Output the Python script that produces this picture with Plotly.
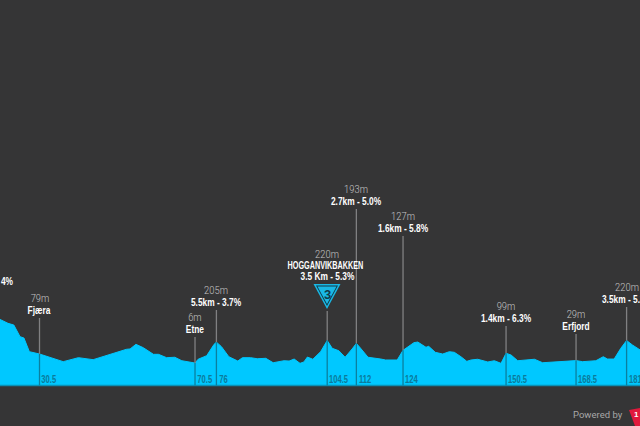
import plotly.graph_objects as go

# profile
km = [20.3, 21.6, 22.4, 23.9, 25.5, 26.5, 27.9, 30.5, 36.6, 40.5, 44.3, 52.9, 53.8, 55.3, 57.2, 59.8,
      61.1, 63.2, 65.3, 67.1, 70.5, 71.3, 73.5, 75.4, 76, 77.3, 79.2, 81.5, 82.7, 84.8, 86.5, 88.7,
      90.6, 93.4, 94.7, 96.0, 97.5, 98.5, 99.4, 100.8, 102.8, 104.5, 105.8, 107.5, 109.1, 110.9, 112,
      113.1, 115, 118.3, 119.5, 122.5, 124, 126.8, 127.8, 129.9, 130.6, 132.3, 134.2, 135.9, 137.2,
      138.9, 140.4, 141.5, 143.2, 145.8, 147.5, 149.2, 150.5, 151.8, 153.5, 157.8, 159.9, 168.5,
      170.2, 173.6, 175.5, 176.6, 178.3, 180, 181.5, 183, 185]
elevation = [422, 400, 384, 368, 257, 244, 114, 92, 19, 57, 38, 137, 140, 184, 152, 89,
             89, 57, 61, 28, 6, 42, 76, 184, 205, 162, 66, 25, 57, 57, 47, 51,
             9, 28, 25, 44, 3, 16, 63, 42, 114, 220, 146, 123, 61, 140, 193,
             146, 61, 44, 35, 35, 127, 200, 206, 156, 165, 108, 92, 114, 108,
             66, 22, 35, 42, 16, 28, 3, 99, 82, 28, 42, 9, 29,
             19, 28, 66, 44, 44, 146, 220, 178, 130]

mark_km = [30.5, 70.5, 76, 104.5, 112, 124, 150.5, 168.5, 181.5]
mark_km_text = ["30.5", "70.5", "76", "104.5", "112", "124", "150.5", "168.5", "181.5"]
mark_height = ["79m", "6m", "205m", "220m", "193m", "127m", "99m", "29m", "220m"]
mark_name = ["Fjæra", "Etne", "5.5km - 3.7%", "3.5 Km - 5.3%", "2.7km - 5.0%", "1.6km - 5.8%",
             "1.4km - 6.3%", "Erfjord", "3.5km - 5.3%"]
stem_top_px = [318, 337, 310, 311, 209, 236, 326, 334, 307]

BG = "#353536"
CYAN = "#00c8ff"
W, H = 640, 426
BASE = -208
NARROW = "Liberation Sans"
GREY_TEXT = "#c4c4c4"


def px_to_y(py):
    return (385.5 - py) / 0.105 + BASE


def px_to_km(px):
    return 20.34 + px / 3.888


def tri(x0, x1, ytop, ybot):
    # downward triangle in pixels, as a paper path
    return (f"M {x0/W} {1-ytop/H} L {x1/W} {1-ytop/H} L {(x0+x1)/2/W} {1-ybot/H} Z")


fig = go.Figure()
fig.add_trace(go.Scatter(x=[km[0], km[-1]], y=[BASE, BASE], mode="lines",
                         line=dict(color="#0b8fb3", width=1.5), hoverinfo="skip"))
fig.add_trace(go.Scatter(x=km, y=elevation, mode="lines", fill="tonexty", fillcolor=CYAN,
                         line=dict(color=CYAN, width=1), hoverinfo="skip"))

shapes = []
ann = []
for k, ktxt, h, name, top in zip(mark_km, mark_km_text, mark_height, mark_name, stem_top_px):
    e = elevation[km.index(k)]
    # grey above the profile, dark teal inside it
    shapes.append(dict(type="line", x0=k, x1=k, y0=e, y1=px_to_y(top), line=dict(color="#808082", width=1.3)))
    shapes.append(dict(type="line", x0=k, x1=k, y0=BASE, y1=e, line=dict(color="#0b7f9f", width=1.3)))
    ann.append(dict(x=k, y=BASE, xref="x", yref="y", text=ktxt, showarrow=False, xanchor="left", yanchor="bottom",
                    xshift=0.5 - 0.7 * len(ktxt), yshift=-1,
                    font=dict(family=NARROW, size=10, color="#0b7a9a", weight="bold")))
    if name.startswith("3.5 Km"):
        continue
    ann.append(dict(x=k, y=px_to_y(top - 8.5), xref="x", yref="y", text=name, showarrow=False,
                    font=dict(family=NARROW, size=11, color="white", weight="bold")))
    ann.append(dict(x=k, y=px_to_y(top - 19.5), xref="x", yref="y", text=h, showarrow=False,
                    font=dict(family="Roboto", size=11, color=GREY_TEXT, weight=300)))

# the climb cut off by the left edge
ann.append(dict(x=17 / W, y=1 - 281 / H, xref="paper", yref="paper", text="4%", showarrow=False,
                xanchor="right", yanchor="middle",
                font=dict(family=NARROW, size=11, color="white", weight="bold")))

# KOM block at 104.5
ann.append(dict(x=104.5, y=px_to_y(254), xref="x", yref="y", text="220m", showarrow=False,
                font=dict(family="Roboto", size=11, color=GREY_TEXT, weight=300)))
ann.append(dict(x=104.5, y=px_to_y(265), xref="x", yref="y", text="HOGGANVIKBAKKEN", showarrow=False, xshift=-1.5,
                font=dict(family=NARROW, size=11, color="white", weight="bold")))
ann.append(dict(x=104.5, y=px_to_y(276), xref="x", yref="y", text="3.5 Km - 5.3%", showarrow=False,
                font=dict(family=NARROW, size=11, color="white", weight="bold")))
for x0, x1, y0, y1, col in [(313.5, 340.5, 284, 309, "#19b9e6"), (316, 338, 285.5, 306, "#123a48"),
                            (317.5, 336.5, 286.5, 304, "#19b9e6")]:
    shapes.append(dict(type="path", xref="paper", yref="paper", fillcolor=col, line=dict(width=0),
                       path=tri(x0, x1, y0, y1)))
ann.append(dict(x=104.5, y=px_to_y(294), xref="x", yref="y", text="3", showarrow=False,
                font=dict(family=NARROW, size=13, color="#123a48", weight="bold")))

ann.append(dict(x=571 / W, y=1 - 414 / H, xref="paper", yref="paper", text="Powered by", showarrow=False,
                xanchor="left", yanchor="middle", font=dict(family="Roboto", size=9.5, color="#a8a8a8")))
shapes.append(dict(type="path", xref="paper", yref="paper", fillcolor="#e0193c", line=dict(width=0),
                   path=f"M {629/W} {1-410/H} L {640/W} {1-408/H} L {640/W} {0} L {635/W} {0} Z"))
ann.append(dict(x=636 / W, y=1 - 414 / H, xref="paper", yref="paper", text="1", showarrow=False,
                xanchor="center", yanchor="middle",
                font=dict(family=NARROW, size=8, color="white", weight="bold")))

fig.update_layout(
    width=W, height=H, margin=dict(l=0, r=0, t=0, b=0), showlegend=False,
    paper_bgcolor=BG, plot_bgcolor=BG, shapes=shapes, annotations=ann,
    xaxis=dict(range=[px_to_km(0), px_to_km(W)], visible=False),
    yaxis=dict(range=[px_to_y(H), px_to_y(0)], visible=False),
)

# no condensed font is installed, so squeeze the label text to the original's narrow look
squeeze = """
document.body.style.margin = '0';
document.querySelectorAll('.annotation-text').forEach(function (t) {
  var s = t.textContent;
  if (s === 'Powered by' || /^\\d$/.test(s)) return;
  var f = s === 'HOGGANVIKBAKKEN' ? 0.66 : /^\\d+m$/.test(s) ? 0.85 : 0.76;
  t.setAttribute('textLength', t.getComputedTextLength() * f);
  t.setAttribute('lengthAdjust', 'spacingAndGlyphs');
});
"""
fig.write_html("out.html", config=dict(displayModeBar=False), post_script=squeeze)
